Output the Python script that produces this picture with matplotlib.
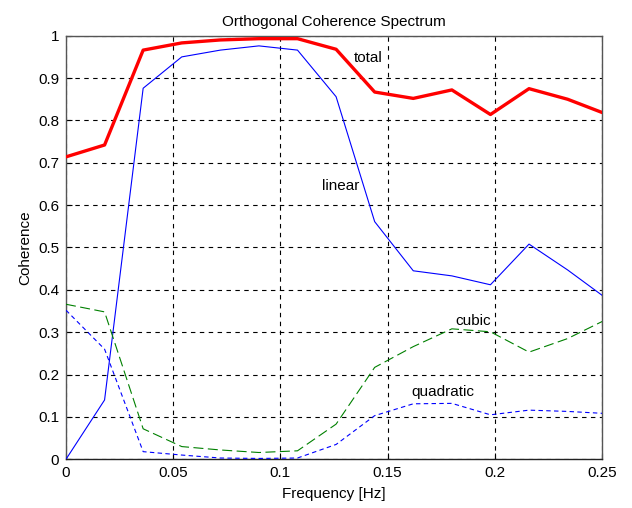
import numpy as np
import matplotlib.pyplot as plt

plt.rcParams['font.family'] = ['Liberation Sans', 'DejaVu Sans']

# frequency bins (Hz)
freq = [0.0, 0.018, 0.036, 0.054, 0.072, 0.090, 0.108, 0.126,
        0.144, 0.162, 0.180, 0.198, 0.216, 0.234, 0.252]

total = [0.714, 0.742, 0.966, 0.983, 0.990, 0.993, 0.993, 0.968,
         0.867, 0.852, 0.872, 0.814, 0.875, 0.850, 0.815]
linear = [0.0, 0.140, 0.876, 0.950, 0.966, 0.976, 0.966, 0.856,
          0.561, 0.445, 0.433, 0.412, 0.508, 0.447, 0.380]
cubic = [0.366, 0.348, 0.072, 0.030, 0.022, 0.016, 0.020, 0.083,
         0.217, 0.266, 0.308, 0.301, 0.253, 0.285, 0.330]
quadratic = [0.352, 0.260, 0.018, 0.010, 0.003, 0.002, 0.003, 0.035,
             0.103, 0.131, 0.132, 0.105, 0.116, 0.113, 0.108]

FS = 11

fig = plt.figure(figsize=(6.32, 5.08), dpi=100)
ax = fig.add_axes([0.1044, 0.0959, 0.848, 0.8338])

ax.plot(freq, total, color='red', lw=2.4, zorder=5)
ax.plot(freq, linear, color='blue', lw=0.8, zorder=4)
ax.plot(freq, cubic, color=(0, 0.5, 0), lw=0.8, dashes=(9, 4), zorder=4)
ax.plot(freq, quadratic, color='blue', lw=0.8, dashes=(4, 3), zorder=4)

ax.text(0.141, 0.947, 'total', ha='center', va='center', fontsize=FS)
ax.text(0.128, 0.645, 'linear', ha='center', va='center', fontsize=FS)
ax.text(0.190, 0.327, 'cubic', ha='center', va='center', fontsize=FS)
ax.text(0.176, 0.160, 'quadratic', ha='center', va='center', fontsize=FS)

ax.set_xlim(0, 0.25)
ax.set_ylim(0, 1)
ax.set_xticks([0, 0.05, 0.1, 0.15, 0.2, 0.25])
ax.set_xticklabels(['0', '0.05', '0.1', '0.15', '0.2', '0.25'])
ax.set_yticks(np.arange(0, 1.01, 0.1))
ax.set_yticklabels(['0', '0.1', '0.2', '0.3', '0.4', '0.5', '0.6', '0.7', '0.8', '0.9', '1'])
ax.tick_params(direction='in', length=4, labelsize=FS, width=0.8, pad=5)
ax.grid(True, color='black', linestyle=(0, (4, 4)), lw=0.8)
for name, s in ax.spines.items():
    s.set_color('#222222' if name == 'bottom' else '#555555')
    s.set_linewidth(1.0)

ax.set_title('Orthogonal Coherence Spectrum', fontsize=FS, pad=7)
ax.set_xlabel('Frequency [Hz]', fontsize=FS, labelpad=5)
ax.set_ylabel('Coherence', fontsize=FS, labelpad=4)

fig.savefig('out.png', dpi=100)
